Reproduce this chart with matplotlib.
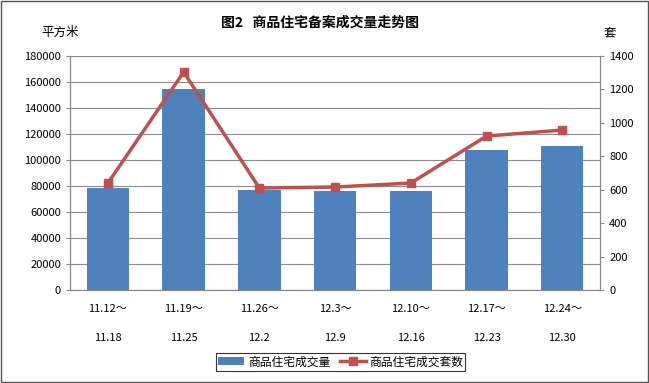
import matplotlib
matplotlib.use("Agg")
import matplotlib.pyplot as plt
import numpy as np

plt.rcParams['font.family'] = ['Noto Sans CJK SC', 'DejaVu Sans']

week_start = ["11.12～", "11.19～", "11.26～", "12.3～", "12.10～", "12.17～", "12.24～"]
week_end = ["11.18", "11.25", "12.2", "12.9", "12.16", "12.23", "12.30"]
area = [78500, 154500, 76900, 76200, 76000, 107800, 110800]
units = [640, 1304, 610, 616, 640, 921, 957]

fig = plt.figure(figsize=(6.49, 3.83), dpi=100)
ax = fig.add_axes([0.108, 0.2428, 0.8167, 0.611])
ax2 = ax.twinx()

x = np.arange(len(area))
bars = ax.bar(x, area, width=0.56, color="#4F81BD", zorder=2, label="商品住宅成交量")
line, = ax2.plot(x, units, color="#C0504D", lw=2.5, marker="s", ms=6,
                 label="商品住宅成交套数", zorder=3)

ax.set_xlim(-0.5, len(area) - 0.5)
ax.set_ylim(0, 180000)
ax.set_yticks(np.arange(0, 180001, 20000))
ax2.set_ylim(0, 1400)
ax2.set_yticks(np.arange(0, 1401, 200))
ax.yaxis.grid(True, color="#8c8c8c", lw=0.8, zorder=0)
ax.set_axisbelow(True)

ax.set_xticks(x)
ax.set_xticklabels([s + "\n\n" + e for s, e in zip(week_start, week_end)],
                   fontsize=8, linespacing=1.55)
ax.tick_params(axis="x", length=0, pad=10)
ax.tick_params(axis="y", labelsize=8, length=3, color="#888888")
ax2.tick_params(axis="y", labelsize=8, length=3, color="#888888")

for a in (ax, ax2):
    a.spines["top"].set_visible(False)
    for s in ("left", "right", "bottom"):
        a.spines[s].set_color("#888888")

fig.text(0.493, 0.94, "图2   商品住宅备案成交量走势图", ha="center", va="center",
         fontsize=10, fontweight="bold")
fig.text(0.093, 0.915, "平方米", ha="center", va="center", fontsize=9)
fig.text(0.94, 0.915, "套", ha="center", va="center", fontsize=9)

leg = fig.legend(handles=[bars, line], loc="center", bbox_to_anchor=(0.525, 0.055),
                 ncol=2, fontsize=8.5, frameon=True, fancybox=False,
                 handlelength=2.2, handletextpad=0.3, columnspacing=0.8,
                 borderpad=0.2, borderaxespad=0)
leg.get_frame().set_edgecolor("black")
leg.get_frame().set_linewidth(0.8)

fig.patches.append(plt.Rectangle((0.002, 0.003), 0.996, 0.994, transform=fig.transFigure,
                                 fill=False, edgecolor="#555555", lw=1))

fig.savefig("out.png", dpi=100)
